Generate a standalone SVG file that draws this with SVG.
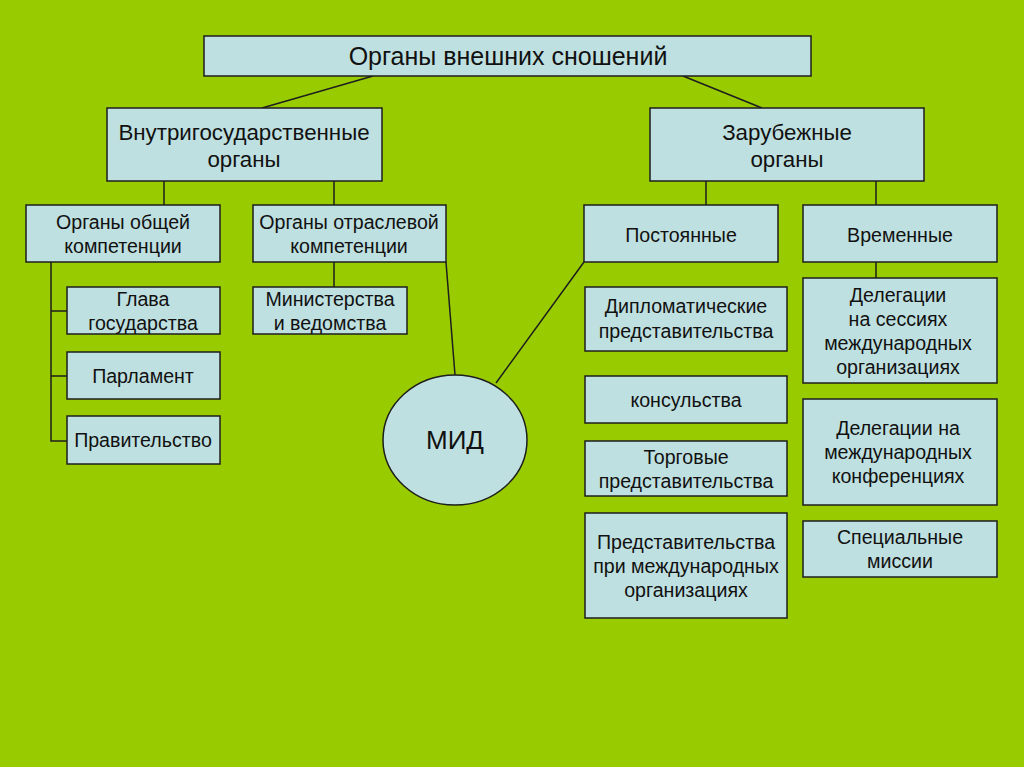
<svg xmlns="http://www.w3.org/2000/svg" width="1024" height="767" viewBox="0 0 1024 767">
<style>
.b{fill:#bfe0e0;stroke:#1e1e1e;stroke-width:1.5}
.t{font-family:"Liberation Sans",Arial,sans-serif;font-size:19.6px;fill:#111;text-anchor:middle}
.t2{font-size:22.3px}
.t1{font-size:25px}
.c{stroke:#1e1e1e;stroke-width:1.5;fill:none}
</style>
<rect width="1024" height="767" fill="#99cc00"/>
<g id="connectors">
<line class="c" x1="373" y1="76" x2="262" y2="108"/>
<line class="c" x1="683" y1="76" x2="762" y2="108"/>
<line class="c" x1="164" y1="181" x2="164" y2="205"/>
<line class="c" x1="334" y1="181" x2="334" y2="205"/>
<line class="c" x1="706" y1="181" x2="706" y2="205"/>
<line class="c" x1="876" y1="181" x2="876" y2="205"/>
<polyline class="c" points="51,262 51,441 67,441"/>
<line class="c" x1="51" y1="311" x2="67" y2="311"/>
<line class="c" x1="51" y1="376" x2="67" y2="376"/>
<line class="c" x1="334" y1="262" x2="334" y2="287"/>
<line class="c" x1="876" y1="262" x2="876" y2="278"/>
<line class="c" x1="446" y1="262" x2="455" y2="375"/>
<line class="c" x1="584" y1="262" x2="496" y2="383"/>
</g>
<g id="root"><rect class="b" x="204" y="36" width="607" height="40"/><text class="t t1" x="508" y="65">Органы внешних сношений</text></g>
<g id="domestic"><rect class="b" x="107" y="108" width="275" height="73"/><text class="t t2" x="244" y="140">Внутригосударственные</text><text class="t t2" x="244" y="167">органы</text></g>
<g id="foreign"><rect class="b" x="650" y="108" width="274" height="73"/><text class="t t2" x="787" y="140">Зарубежные</text><text class="t t2" x="787" y="167">органы</text></g>
<g id="general"><rect class="b" x="26" y="205" width="194" height="57"/><text class="t" x="123" y="229">Органы общей</text><text class="t" x="123" y="253">компетенции</text></g>
<g id="sectoral"><rect class="b" x="253" y="205" width="193" height="57"/><text class="t" x="349" y="229">Органы отраслевой</text><text class="t" x="349" y="253">компетенции</text></g>
<g id="permanent"><rect class="b" x="584" y="205" width="194" height="57"/><text class="t" x="681" y="242">Постоянные</text></g>
<g id="temporary"><rect class="b" x="803" y="205" width="194" height="57"/><text class="t" x="900" y="242">Временные</text></g>
<g id="head"><rect class="b" x="67" y="287" width="153" height="47"/><text class="t" x="143" y="306">Глава</text><text class="t" x="143" y="330">государства</text></g>
<g id="parliament"><rect class="b" x="67" y="352" width="153" height="47"/><text class="t" x="143" y="383">Парламент</text></g>
<g id="government"><rect class="b" x="67" y="416" width="153" height="48"/><text class="t" x="143" y="447">Правительство</text></g>
<g id="ministries"><rect class="b" x="253" y="287" width="154" height="47"/><text class="t" x="330" y="306">Министерства</text><text class="t" x="330" y="330">и ведомства</text></g>
<g id="mid"><ellipse class="b" cx="455" cy="440" rx="72" ry="65"/><text class="t" x="455" y="449" style="font-size:26px">МИД</text></g>
<g id="diplomatic"><rect class="b" x="585" y="287" width="202" height="64"/><text class="t" x="686" y="313">Дипломатические</text><text class="t" x="686" y="338">представительства</text></g>
<g id="consulates"><rect class="b" x="585" y="376" width="202" height="47"/><text class="t" x="686" y="407">консульства</text></g>
<g id="trade"><rect class="b" x="585" y="441" width="202" height="55"/><text class="t" x="686" y="464">Торговые</text><text class="t" x="686" y="488">представительства</text></g>
<g id="intlorg"><rect class="b" x="585" y="513" width="202" height="105"/><text class="t" x="686" y="549">Представительства</text><text class="t" x="686" y="573">при международных</text><text class="t" x="686" y="597">организациях</text></g>
<g id="sessions"><rect class="b" x="803" y="278" width="194" height="105"/><text class="t" x="898" y="302">Делегации</text><text class="t" x="898" y="326">на сессиях</text><text class="t" x="898" y="350">международных</text><text class="t" x="898" y="374">организациях</text></g>
<g id="conferences"><rect class="b" x="803" y="399" width="194" height="106"/><text class="t" x="898" y="435">Делегации на</text><text class="t" x="898" y="459">международных</text><text class="t" x="898" y="483">конференциях</text></g>
<g id="missions"><rect class="b" x="803" y="521" width="194" height="56"/><text class="t" x="900" y="544">Специальные</text><text class="t" x="900" y="568">миссии</text></g>
</svg>
